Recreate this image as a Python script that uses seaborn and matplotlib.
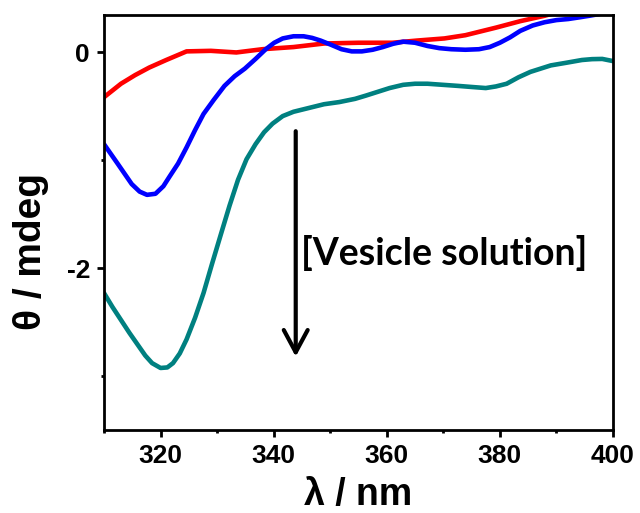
import numpy as np
import pandas as pd
import matplotlib
matplotlib.use("Agg")
import matplotlib.pyplot as plt
import seaborn as sns

# CD spectra: ellipticity vs wavelength for three samples
red_wl = [310, 313, 315.5, 318, 321, 324.6, 328.9, 333.4, 338, 343.5, 348.9,
          355, 361, 365.3, 370.2, 373.9, 379.3, 383.6, 387.9, 392, 396, 400]
red_theta = [-0.415, -0.29, -0.21, -0.14, -0.07, 0.01, 0.015, 0.0, 0.03, 0.05, 0.083,
             0.09, 0.09, 0.11, 0.13, 0.16, 0.23, 0.29, 0.34, 0.40, 0.46, 0.52]

blue_wl = [310, 312.4, 314.9, 316.3, 317.6, 319.1, 320.5, 321.6, 323.1, 324.6, 326.1,
           327.6, 329.4, 331.3, 333.1, 334.9, 336.8, 338.6, 340.1, 341.6, 343.5, 345.3,
           346.8, 348.3, 350.2, 352, 353.8, 355.6, 357.5, 359.3, 361.1, 362.9, 365,
           367.2, 369.3, 371.4, 373.9, 376.3, 378.2, 380, 381.8, 383.6, 385.8, 387.9,
           390, 392.1, 394, 395.8, 398, 400]
blue_theta = [-0.85, -1.03, -1.22, -1.29, -1.32, -1.31, -1.24, -1.15, -1.03, -0.88, -0.72,
              -0.57, -0.44, -0.31, -0.22, -0.15, -0.06, 0.03, 0.09, 0.13, 0.15, 0.15,
              0.135, 0.11, 0.07, 0.03, 0.01, 0.01, 0.025, 0.05, 0.08, 0.10, 0.09,
              0.06, 0.04, 0.03, 0.025, 0.03, 0.05, 0.09, 0.14, 0.20, 0.25, 0.28,
              0.30, 0.31, 0.325, 0.34, 0.36, 0.38]

teal_wl = [310, 311.5, 313, 314.5, 316.1, 317.3, 318.5, 320, 321.2, 322.2, 323.4,
           324.6, 326.1, 327.6, 329.1, 330.7, 332.2, 333.7, 335.2, 336.8, 338.3,
           339.8, 341.6, 343.5, 346.2, 348.9, 351.6, 354.4, 356.3, 358.1, 360.5,
           362.9, 365, 367.2, 369.9, 372.6, 375, 377.5, 379.3, 381.2, 383.3, 385.4,
           387.2, 389, 391.8, 394.5, 396.3, 398.1, 400]
teal_theta = [-2.23, -2.36, -2.48, -2.60, -2.72, -2.81, -2.88, -2.925, -2.92, -2.88, -2.79,
              -2.66, -2.46, -2.23, -1.96, -1.68, -1.42, -1.18, -0.99, -0.85, -0.74,
              -0.66, -0.59, -0.55, -0.515, -0.48, -0.46, -0.43, -0.40, -0.37, -0.33,
              -0.30, -0.29, -0.29, -0.30, -0.31, -0.32, -0.33, -0.315, -0.29, -0.23, -0.18,
              -0.15, -0.12, -0.095, -0.07, -0.062, -0.06, -0.08]

series_names = ["free", "low", "high"]
series_colors = ["#ff0000", "#0000ff", "#008080"]

x_major = [320, 340, 360, 380, 400]
x_minor = [310, 330, 350, 370, 390]
y_major = [0, -2]
y_minor = [-1, -3]

df = pd.concat([
    pd.DataFrame({"wl": red_wl, "theta": red_theta, "sample": series_names[0]}),
    pd.DataFrame({"wl": blue_wl, "theta": blue_theta, "sample": series_names[1]}),
    pd.DataFrame({"wl": teal_wl, "theta": teal_theta, "sample": series_names[2]}),
], ignore_index=True)

sns.set_style("ticks")
plt.rcParams["font.family"] = ["Liberation Sans", "DejaVu Sans"]
plt.rcParams["axes.unicode_minus"] = False
plt.rcParams["text.color"] = "black"
plt.rcParams["axes.labelcolor"] = "black"
plt.rcParams["xtick.color"] = "black"
plt.rcParams["ytick.color"] = "black"

fig = plt.figure(figsize=(6.4, 5.13), dpi=100)
ax = fig.add_axes([104 / 640, 1 - 430 / 513, 509 / 640, 415.3 / 513])

sns.lineplot(data=df, x="wl", y="theta", hue="sample", hue_order=series_names,
             palette=dict(zip(series_names, series_colors)), estimator=None,
             sort=False, lw=3.3, legend=False, ax=ax)

ax.set_xlim(310, 400)
ax.set_ylim(-3.5, 0.35)
ax.set_xticks(x_major)
ax.set_xticks(x_minor, minor=True)
ax.set_yticks(y_major)
ax.set_yticks(y_minor, minor=True)
ax.set_yticklabels([str(v) for v in y_major])

for s in ax.spines.values():
    s.set_linewidth(2.0)
    s.set_color("black")

ax.tick_params(which="major", direction="out", length=5, width=2,
               labelsize=19, pad=5, colors="black")
ax.tick_params(which="minor", direction="out", length=2.5, width=2, colors="black")
for lab in ax.get_xticklabels() + ax.get_yticklabels():
    lab.set_fontweight("bold")

ax.set_xlabel("λ / nm", fontsize=27, fontweight="bold", color="black")
ax.set_ylabel("θ / mdeg", fontsize=28, fontweight="bold", color="black")
ax.xaxis.set_label_coords(0.5, -0.112)
ax.xaxis.label.set_va("top")
ax.yaxis.set_label_coords(-0.143, 0.431)
ax.yaxis.label.set_va("center")

# downward arrow marking increasing vesicle concentration
ax.annotate("", xy=(343.9, -2.82), xytext=(343.9, -0.73),
            arrowprops=dict(arrowstyle="->,head_length=0.8,head_width=0.43",
                            lw=3, color="black", mutation_scale=20,
                            shrinkA=0, shrinkB=0))
ax.text(344.8, -1.86, "[Vesicle solution]", fontsize=27, fontweight="bold",
        family=["Lato", "DejaVu Sans"], va="center", ha="left", color="black")

fig.savefig("out.png", dpi=100)
